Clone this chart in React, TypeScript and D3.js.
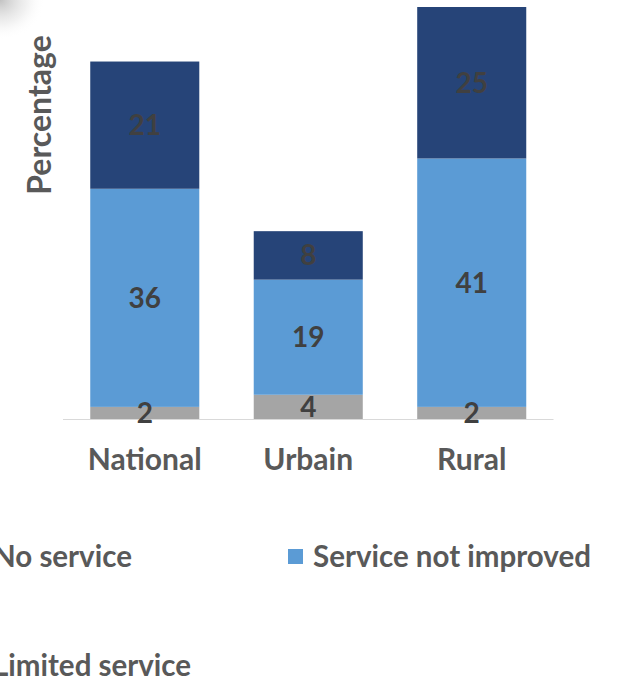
import React from "react";
import * as d3 from "d3";

const categories = ["National", "Urbain", "Rural"];
const seriesNames = ["No service", "Service not improved", "Limited service"];
const noService = [2, 4, 2];
const notImproved = [36, 19, 41];
const limited = [21, 8, 25];
const seriesColors = ["#A5A5A5", "#5B9BD5", "#264478"];
const legendOrder = [0, 1, 2];

const W = 618;
const H = 678;
const FONT = "Lato, 'Open Sans', sans-serif";

export default function App() {
  const values = [noService, notImproved, limited];
  const rows = categories.map((c, i) => {
    const r: any = { cat: c };
    seriesNames.forEach((s, k) => (r[s] = values[k][i]));
    return r;
  });
  const stack = d3.stack().keys(seriesNames)(rows);

  const x = d3
    .scaleBand()
    .domain(categories)
    .range([63, 553.5])
    .paddingInner(0.333)
    .paddingOuter(0.1667);
  const y = d3.scaleLinear().domain([0, 68]).range([419, 7]);

  const legendCols = [-32, 288];
  const legendRows = [557, 666];

  return (
    <svg
      width={W}
      height={H}
      style={{ position: "absolute", left: 0, top: 0, background: "#fff" }}
    >
      <defs>
        <radialGradient id="corner" cx="0" cy="0" r="1">
          <stop offset="0%" stopColor="#bbbbbb" stopOpacity="0.9" />
          <stop offset="60%" stopColor="#dddddd" stopOpacity="0.4" />
          <stop offset="100%" stopColor="#ffffff" stopOpacity="0" />
        </radialGradient>
      </defs>
      <rect x={0} y={0} width={45} height={40} fill="url(#corner)" />

      {stack.map((layer, k) => (
        <g key={layer.key}>
          {layer.map((d, i) => (
            <rect
              key={i}
              x={x(categories[i])}
              y={y(d[1])}
              width={x.bandwidth()}
              height={y(d[0]) - y(d[1])}
              fill={seriesColors[k]}
            />
          ))}
        </g>
      ))}

      <line x1={63} x2={553.5} y1={419.5} y2={419.5} stroke="#D9D9D9" strokeWidth={1} />

      {stack.map((layer, k) => (
        <g key={"l" + layer.key}>
          {layer.map((d, i) => (
            <text
              key={i}
              x={(x(categories[i]) as number) + x.bandwidth() / 2}
              y={(y(d[0]) + y(d[1])) / 2 + 10}
              textAnchor="middle"
              fontFamily={FONT}
              fontWeight="bold"
              fontSize={28}
              fill="#404040"
            >
              {values[k][i]}
            </text>
          ))}
        </g>
      ))}

      {categories.map((c) => (
        <text
          key={c}
          x={(x(c) as number) + x.bandwidth() / 2}
          y={470}
          textAnchor="middle"
          fontFamily={FONT}
          fontWeight="bold"
          fontSize={30}
          fill="#595959"
        >
          {c}
        </text>
      ))}

      <text
        transform="translate(51,115) rotate(-90)"
        textAnchor="middle"
        fontFamily={FONT}
        fontWeight="bold"
        fontSize={32}
        fill="#595959"
      >
        Percentage
      </text>

      {legendOrder.map((k, j) => {
        const lx = legendCols[j % 2];
        const ly = legendRows[Math.floor(j / 2)];
        return (
          <g key={"lg" + k}>
            <rect x={lx} y={ly - 8} width={15} height={15} fill={seriesColors[k]} />
            <text
              x={lx + 25}
              y={ly + 10}
              fontFamily={FONT}
              fontWeight="bold"
              fontSize={29.5}
              fill="#595959"
            >
              {seriesNames[k]}
            </text>
          </g>
        );
      })}
    </svg>
  );
}
